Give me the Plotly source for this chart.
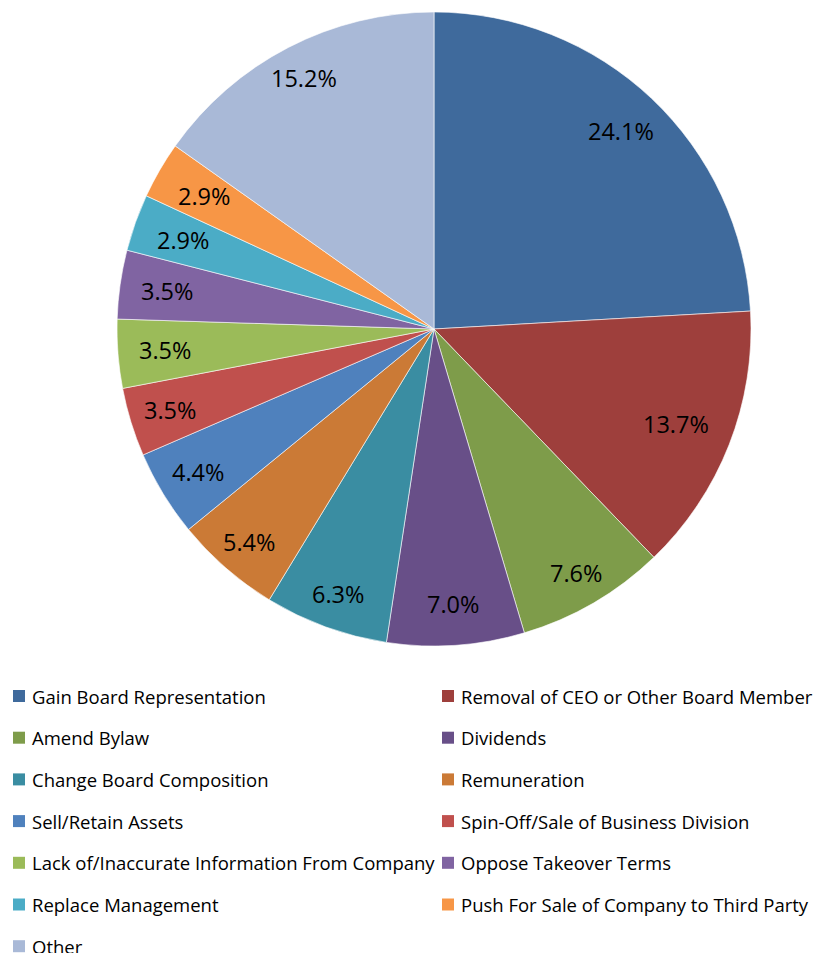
import math
import plotly.graph_objects as go

categories = [
    "Gain Board Representation",
    "Removal of CEO or Other Board Member",
    "Amend Bylaw",
    "Dividends",
    "Change Board Composition",
    "Remuneration",
    "Sell/Retain Assets",
    "Spin-Off/Sale of Business Division",
    "Lack of/Inaccurate Information From Company",
    "Oppose Takeover Terms",
    "Replace Management",
    "Push For Sale of Company to Third Party",
    "Other",
]
values = [24.1, 13.7, 7.6, 7.0, 6.3, 5.4, 4.4, 3.5, 3.5, 3.5, 2.9, 2.9, 15.2]
colors = [
    "#3F6A9C", "#9E3F3C", "#7E9C4A", "#684F88", "#3A8DA2", "#CB7A36",
    "#4F81BD", "#C0504D", "#9BBB59", "#8064A2", "#4BACC6", "#F79646",
    "#A9B9D7",
]
# radial placement of each percentage label (fraction of pie radius)
label_radius = [0.86, 0.82, 0.89, 0.87, 0.89, 0.89, 0.87, 0.87, 0.85,
                0.85, 0.84, 0.84, 0.89]

W, H = 814, 953
cx_px, cy_px, r_px = 434, 329, 317
FONT = "Open Sans, Liberation Sans, sans-serif"

def px(x):
    return x / W

def py(y):
    return 1 - y / H

fig = go.Figure()
fig.add_trace(go.Pie(
    labels=categories,
    values=values,
    sort=False,
    direction="clockwise",
    rotation=0,
    marker=dict(colors=colors, line=dict(color="white", width=0.6)),
    textinfo="none",
    hoverinfo="label+percent",
    showlegend=False,
    domain=dict(x=[px(cx_px - r_px), px(cx_px + r_px)],
                y=[py(cy_px + r_px), py(cy_px - r_px)]),
))

annotations = []
total = sum(values)
cum = 0.0
for v, f in zip(values, label_radius):
    mid = (cum + v / 2) / total * 2 * math.pi
    cum += v
    lx = cx_px + r_px * f * math.sin(mid)
    ly = cy_px - r_px * f * math.cos(mid)
    annotations.append(dict(
        x=px(lx), y=py(ly), xref="paper", yref="paper",
        text=f"{v:.1f}%", showarrow=False,
        font=dict(family=FONT, size=23.5, color="black"),
        xanchor="center", yanchor="middle",
    ))

# custom two-column legend
shapes = []
col_sq_x = [13, 442]
row_y0 = 696
row_gap = 41.7
sq = 12
for i, (cat, col) in enumerate(zip(categories, colors)):
    c = i % 2
    r = i // 2
    yc = row_y0 + r * row_gap
    x0 = col_sq_x[c]
    shapes.append(dict(
        type="rect", xref="paper", yref="paper",
        x0=px(x0), x1=px(x0 + sq), y0=py(yc + sq / 2), y1=py(yc - sq / 2),
        fillcolor=col, line=dict(width=0),
    ))
    annotations.append(dict(
        x=px(x0 + sq + 5), y=py(yc), xref="paper", yref="paper",
        text=cat, showarrow=False,
        font=dict(family=FONT, size=18.5, color="black"),
        xanchor="left", yanchor="middle",
    ))

fig.update_layout(
    width=W, height=H,
    margin=dict(l=0, r=0, t=0, b=0),
    paper_bgcolor="white",
    plot_bgcolor="white",
    annotations=annotations,
    shapes=shapes,
)

fig.write_html(
    "out.html",
    config={"displayModeBar": False},
    post_script="document.body.style.margin='0';document.documentElement.style.overflow='hidden';",
)
